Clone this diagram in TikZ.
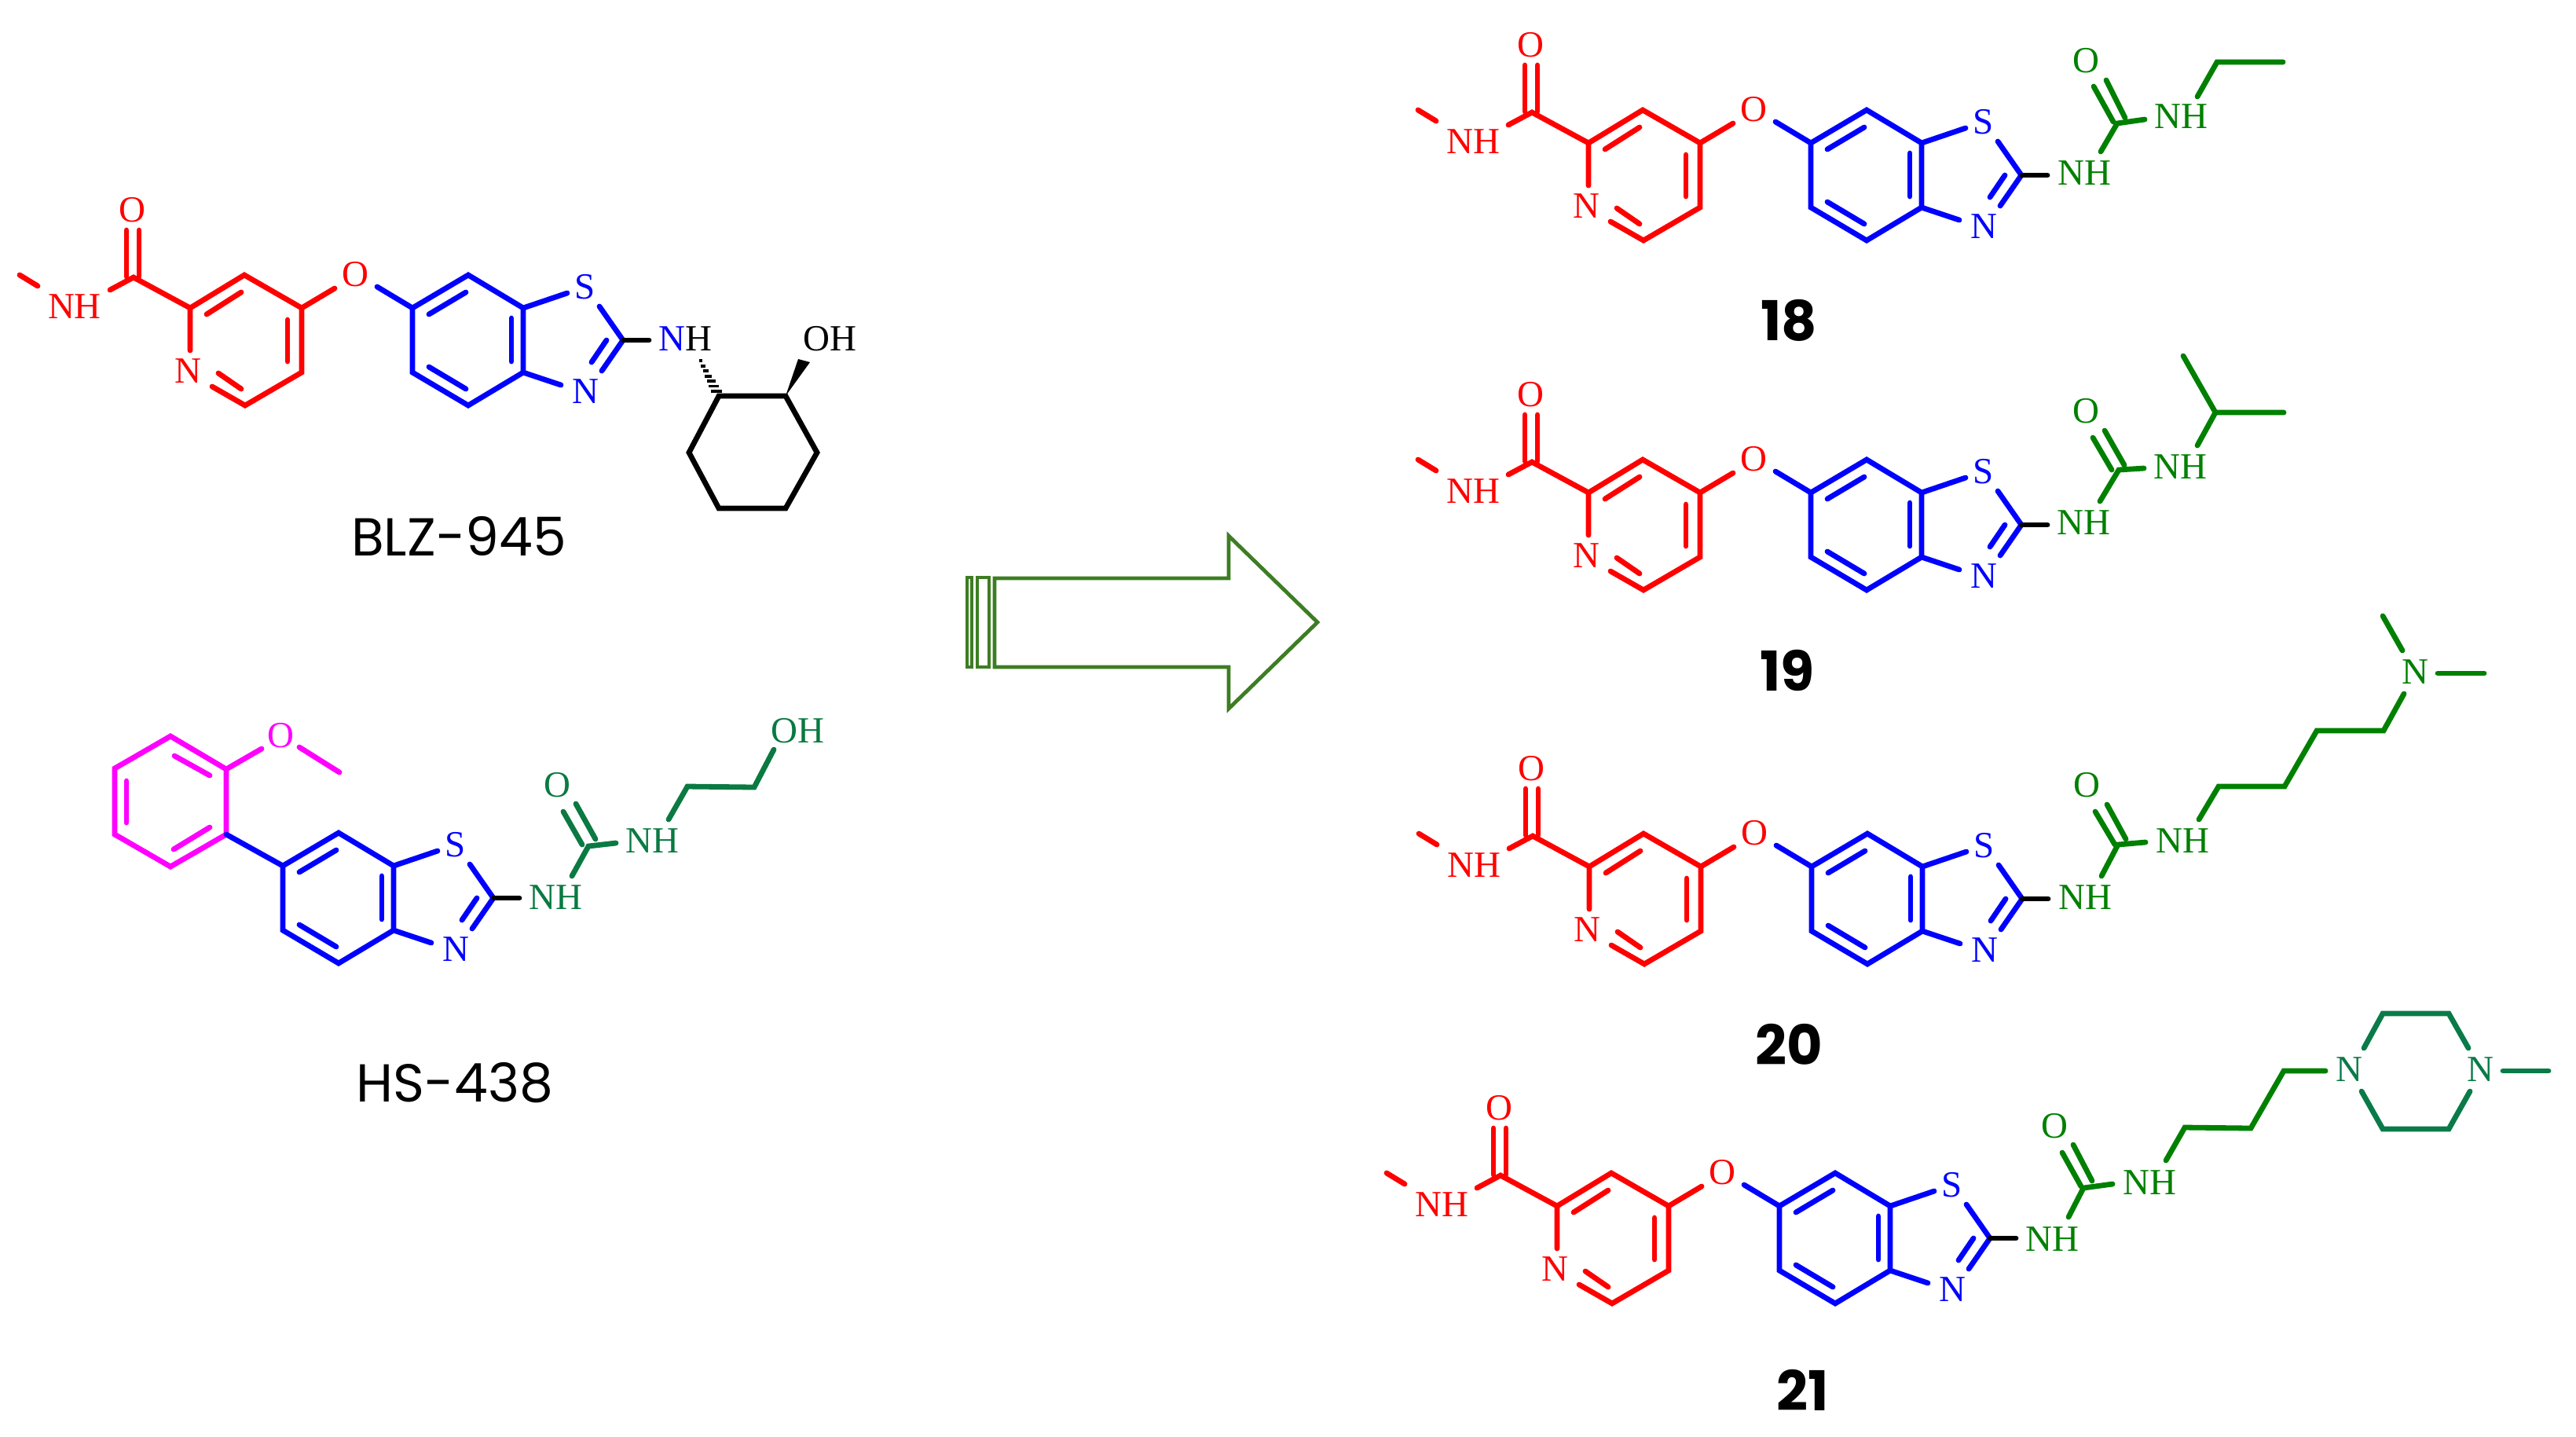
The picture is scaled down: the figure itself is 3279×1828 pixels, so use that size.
\documentclass[tikz,border=0pt]{standalone}
\usepackage{fontspec}
\setmainfont{Liberation Serif}
\newfontfamily\lblfont{Poppins}
\usetikzlibrary{calc}
\definecolor{hsgreen}{HTML}{0A7A42}
\definecolor{cpgreen}{HTML}{008000}
\definecolor{pipgreen}{HTML}{0A7B48}
\definecolor{arrgreen}{HTML}{3D7D23}
\definecolor{pur}{HTML}{FF00FF}
\tikzset{
  atom/.style={inner sep=0pt,outer sep=0pt,font=\fontsize{23.5}{24}\selectfont},
  namelbl/.style={inner sep=0pt,outer sep=0pt,font=\lblfont\fontsize{34}{36}\selectfont},
  numlbl/.style={inner sep=0pt,outer sep=0pt,font=\lblfont\bfseries\fontsize{35}{36}\selectfont},
  bond/.style={line width=3.4pt,line cap=round,line join=miter,miter limit=4},
  block/.style={bond,draw=black},
  bred/.style={bond,draw=red},
  bblue/.style={bond,draw=blue},
  bpur/.style={bond,draw=pur},
  bhs/.style={bond,draw=hsgreen},
  bcp/.style={bond,draw=cpgreen},
  bpip/.style={bond,draw=pipgreen},
  arrline/.style={draw=arrgreen,line width=2.4pt,line join=miter,miter limit=6},
}
% coordinate list helper
\newcommand{\pts}[2]{\foreach \n/\x/\y in {#2}{\coordinate (#1\n) at (\x,\y);}}
% pyridine carboxamide with ether link to the benzothiazole
\newcommand{\redpart}[1]{
  \pts{#1}{me/25/350,mf/48/364,na/140/369,c/170/353,da/161/293,db/161/352,dc/177/293,dd/177/352,%
    r1/242/392,r2/311/350,r3/384/392,r4/384/474,r5/312/516,ne/242/446,nf/270/492,%
    i1/263/400,i2/307/372,i3/366/407,i4/366/460,i5/278/475,i6/307/495,%
    oa/426/367,ob/480/365,oc/525/392}
  \node[atom,text=red] (#1NH) at (95,390) {NH};
  \node[atom,text=red] (#1O) at (168,267) {O};
  \node[atom,text=red] (#1N) at (239,472) {N};
  \node[atom,text=red] (#1OE) at (452,349) {O};
  \draw[bred] (#1me) -- (#1mf);
  \draw[bred] (#1na) -- (#1c) -- (#1r1);
  \draw[bred] (#1da) -- (#1db);
  \draw[bred] (#1dc) -- (#1dd);
  \draw[bred] (#1ne) -- (#1r1) -- (#1r2) -- (#1r3) -- (#1r4) -- (#1r5) -- (#1nf);
  \draw[bred] (#1i1) -- (#1i2);
  \draw[bred] (#1i3) -- (#1i4);
  \draw[bred] (#1i5) -- (#1i6);
  \draw[bred] (#1r3) -- (#1oa);
  \draw[bblue] (#1ob) -- (#1oc);
}
% benzothiazole
\newcommand{\bluepart}[1]{
  \pts{#1}{b1/525/392,b2/596/350,b3/666/392,b4/666/474,b5/596/516,b6/525/474,%
    j1/546/400,j2/593/372,j3/651/405,j4/651/460,j5/546/467,j6/593/495,%
    sa/722/373,sb/763/390,ta/793/433,nb/714/490,nc/766/472,k1/772/433,k2/753/461,st/826/433}
  \node[atom,text=blue] (#1S) at (745,365) {S};
  \node[atom,text=blue] (#1NT) at (745,498) {N};
  \draw[bblue] (#1b1) -- (#1b2) -- (#1b3) -- (#1b4) -- (#1b5) -- (#1b6) -- cycle;
  \draw[bblue] (#1j1) -- (#1j2);
  \draw[bblue] (#1j3) -- (#1j4);
  \draw[bblue] (#1j5) -- (#1j6);
  \draw[bblue] (#1b3) -- (#1sa);
  \draw[bblue] (#1b4) -- (#1nb);
  \draw[bblue] (#1sb) -- (#1ta) -- (#1nc);
  \draw[bblue] (#1k1) -- (#1k2);
  \draw[block] (#1ta) -- (#1st);
}
\begin{document}
\begin{tikzpicture}[x=0.5pt,y=-0.5pt]
\useasboundingbox (0,0) rectangle (3279,1828);
\fill[white] (0,0) rectangle (3279,1828);

%% BLZ-945
\redpart{bz}
\bluepart{bz}
\node[atom] (bzNH) at (872,431) {\textcolor{blue}{N}H};
\node[atom] (bzOH) at (1056,431) {OH};
\pts{bz}{h1/915/504,h2/1000/504,h3/1040/576,h4/1000/647,h5/915/647,h6/877/576,ht/891/458,wa/1016/457,wb/1031/461}
\draw[block] (bzh1) -- (bzh2) -- (bzh3) -- (bzh4) -- (bzh5) -- (bzh6) -- cycle;
\foreach \t/\w in {0.03/2.2,0.17/3,0.31/3.8,0.45/4.6,0.59/5.4,0.73/6.2,0.87/7}{
  \draw[black,line width=1.9pt] ($(bzht)!\t!(bzh1)+(-\w,0)$) -- ($(bzht)!\t!(bzh1)+(\w,0)$);
}
\fill[black] (bzh2) -- (bzwa) -- (bzwb) -- cycle;
\node[namelbl] (bzname) at (584,682) {BLZ-945};

%% HS-438
\pts{hs}{p1/217/937,p2/288/979,p3/288/1062,p4/217/1103,p5/146/1062,p6/146/978,%
  q1/222/962,q2/267/987,q3/267/1053,q4/221/1081,q5/161/994,q6/161/1047,oa/333/953,ob/381/951,oc/432/983,lk/360/1102,%
  ua/728/1115,ub/749/1077,d1/717/1033,d2/741/1075,d3/733/1023,d4/758/1068,uc/784/1073,%
  ca/851/1043,cb/875/1001,cc/960/1002,cd/985/954}
\draw[bpur] (hsp1) -- (hsp2) -- (hsp3) -- (hsp4) -- (hsp5) -- (hsp6) -- cycle;
\draw[bpur] (hsq1) -- (hsq2);
\draw[bpur] (hsq3) -- (hsq4);
\draw[bpur] (hsq5) -- (hsq6);
\draw[bpur] (hsp2) -- (hsoa);
\draw[bpur] (hsob) -- (hsoc);
\node[atom,text=pur] (hsO) at (357,936) {O};
\draw[bblue] (hsp3) -- (hslk);
\begin{scope}[shift={(-165,710)}]
\bluepart{hb}
\end{scope}
\node[atom,text=hsgreen] (hsNa) at (707,1142) {NH};
\node[atom,text=hsgreen] (hsNb) at (830,1070) {NH};
\node[atom,text=hsgreen] (hsOu) at (709,999) {O};
\node[atom,text=hsgreen] (hsOH) at (1015,930) {OH};
\draw[bhs] (hsua) -- (hsub) -- (hsuc);
\draw[bhs] (hsd1) -- (hsd2);
\draw[bhs] (hsd3) -- (hsd4);
\draw[bhs] (hsca) -- (hscb) -- (hscc) -- (hscd);
\node[namelbl] (hsname) at (579,1378) {HS-438};

%% block arrow
\pts{ar}{a/1266/736,b/1564/736,c/1564/682,d/1677/792,e/1564/902,f/1564/849,g/1266/849,%
  r1/1231/735,r2/1237/735,r3/1237/849,r4/1231/849,s1/1244/735,s2/1259/735,s3/1259/849,s4/1244/849}
\draw[arrline] (ara) -- (arb) -- (arc) -- (ard) -- (are) -- (arf) -- (arg) -- cycle;
\draw[arrline] (arr1) -- (arr2) -- (arr3) -- (arr4) -- cycle;
\draw[arrline] (ars1) -- (ars2) -- (ars3) -- (ars4) -- cycle;

%% 18
\begin{scope}[shift={(1780,-210)}]
\redpart{aa}
\bluepart{aa}
\end{scope}
\pts{a}{ua/2674/193,ub/2695/157,d1/2665/110,d2/2690/155,d3/2681/102,d4/2705/150,uc/2730/152,ca/2797/123,cb/2822/79,cc/2906/79}
\node[atom,text=cpgreen] (aNa) at (2653,220) {NH};
\node[atom,text=cpgreen] (aNb) at (2776,148) {NH};
\node[atom,text=cpgreen] (aOu) at (2655,77) {O};
\draw[bcp] (aua) -- (aub) -- (auc);
\draw[bcp] (ad1) -- (ad2);
\draw[bcp] (ad3) -- (ad4);
\draw[bcp] (aca) -- (acb) -- (acc);
\node[numlbl] (aname) at (2277,408) {18};

%% 19
\begin{scope}[shift={(1780,235)}]
\redpart{bb}
\bluepart{bb}
\end{scope}
\pts{c}{ua/2673/638,ub/2697/598,d1/2664/557,d2/2688/598,d3/2679/548,d4/2704/592,uc/2729/596,ca/2797/567,cb/2820/525,cc/2907/525,cd/2779/453}
\node[atom,text=cpgreen] (cNa) at (2652,665) {NH};
\node[atom,text=cpgreen] (cNb) at (2775,594) {NH};
\node[atom,text=cpgreen] (cOu) at (2655,523) {O};
\draw[bcp] (cua) -- (cub) -- (cuc);
\draw[bcp] (cd1) -- (cd2);
\draw[bcp] (cd3) -- (cd4);
\draw[bcp] (cca) -- (ccb) -- (ccc);
\draw[bcp] (ccb) -- (ccd);
\node[numlbl] (cname) at (2275,853) {19};

%% 20
\begin{scope}[shift={(1781,711)}]
\redpart{dd}
\bluepart{dd}
\end{scope}
\pts{e}{ua/2675/1115,ub/2696/1075,d1/2667/1033,d2/2692/1075,d3/2682/1024,d4/2706/1068,uc/2731/1072,%
  ca/2799/1043,cb/2824/1001,cc/2908/1001,cd/2949/930,ce/3034/930,cf/3060/883,ma/3058/828,mb/3033/784,mc/3103/857,md/3162/857}
\node[atom,text=cpgreen] (eNa) at (2654,1142) {NH};
\node[atom,text=cpgreen] (eNb) at (2778,1070) {NH};
\node[atom,text=cpgreen] (eOu) at (2656,999) {O};
\node[atom,text=cpgreen] (eNm) at (3074,855) {N};
\draw[bcp] (eua) -- (eub) -- (euc);
\draw[bcp] (ed1) -- (ed2);
\draw[bcp] (ed3) -- (ed4);
\draw[bcp] (eca) -- (ecb) -- (ecc) -- (ecd) -- (ece) -- (ecf);
\draw[bcp] (ema) -- (emb);
\draw[bcp] (emc) -- (emd);
\node[numlbl] (ename) at (2277,1329) {20};

%% 21
\begin{scope}[shift={(1740,1143)}]
\redpart{ff}
\bluepart{ff}
\end{scope}
\pts{g}{ua/2633/1549,ub/2652/1512,d1/2625/1467,d2/2649/1510,d3/2639/1457,d4/2663/1503,uc/2689/1507,%
  ca/2757/1477,cb/2781/1435,cc/2865/1436,cd/2907/1363,ce/2960/1363,%
  pa/3009/1334,pb/3033/1290,pc/3117/1290,pd/3142/1334,pe/3006/1389,pf/3033/1437,pg/3117/1437,ph/3144/1389,ma/3186/1363,mb/3244/1363}
\node[atom,text=cpgreen] (gNa) at (2612,1577) {NH};
\node[atom,text=cpgreen] (gNb) at (2736,1505) {NH};
\node[atom,text=cpgreen] (gOu) at (2615,1433) {O};
\node[atom,text=pipgreen] (gN1) at (2990,1361) {N};
\node[atom,text=pipgreen] (gN2) at (3157,1361) {N};
\draw[bcp] (gua) -- (gub) -- (guc);
\draw[bcp] (gd1) -- (gd2);
\draw[bcp] (gd3) -- (gd4);
\draw[bcp] (gca) -- (gcb) -- (gcc) -- (gcd) -- (gce);
\draw[bpip] (gpa) -- (gpb) -- (gpc) -- (gpd);
\draw[bpip] (gpe) -- (gpf) -- (gpg) -- (gph);
\draw[bpip] (gma) -- (gmb);
\node[numlbl] (gname) at (2295,1769) {21};
\end{tikzpicture}
\end{document}
